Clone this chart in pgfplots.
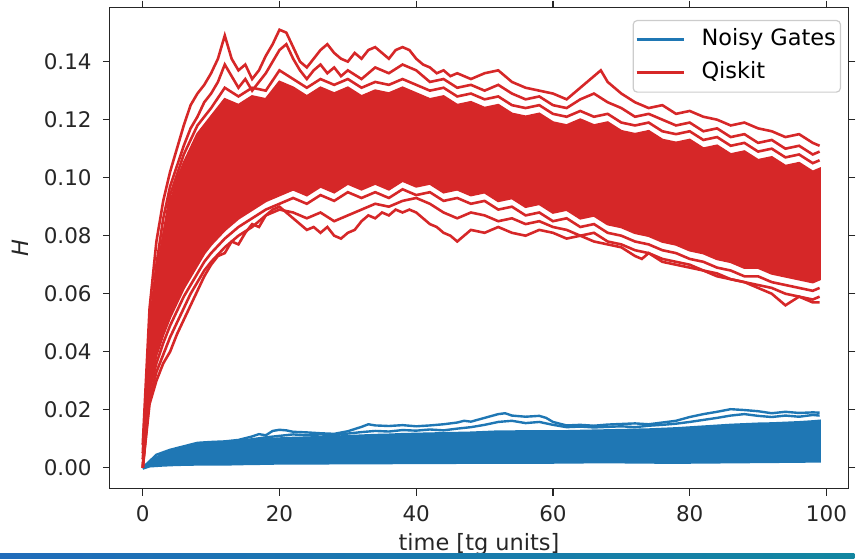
\documentclass[border=0pt]{standalone}
\usepackage{fontspec}
\setmainfont{DejaVu Sans}
\usepackage{pgfplots}
\pgfplotsset{compat=1.18}
\definecolor{tabred}{HTML}{D62728}
\definecolor{tabblue}{HTML}{1F77B4}
\definecolor{barL}{RGB}{32,108,186}
\definecolor{barR}{RGB}{18,134,160}
\newcommand{\fs}{\fontsize{21.5bp}{25bp}\selectfont}
\newcommand{\fl}{\fontsize{22.5bp}{26bp}\selectfont}
\begin{document}
\begin{tikzpicture}
\begin{axis}[
  at={(0,0)}, anchor=south west,
  scale only axis, width=740bp, height=482bp,
  xmin=-4.82, xmax=103.2, ymin=-0.00722, ymax=0.1586,
  axis line style={black!85, line width=1.4bp},
  tick align=outside, tick style={black!85, line width=1.4bp},
  major tick length=7bp,
  xtick={0,20,40,60,80,100}, ytick={0,0.02,0.04,0.06,0.08,0.1,0.12,0.14},
  minor tick num=0,
  /pgf/number format/assume math mode=true,
  scaled y ticks=false,
  ticklabel style={font=\fs, text=black!85},
  xticklabel style={anchor=north, inner sep=0pt, yshift=-10bp},
  yticklabel style={/pgf/number format/fixed, /pgf/number format/fixed zerofill, /pgf/number format/precision=2, anchor=east, inner sep=0pt, xshift=-11bp},
  xlabel={time [tg units]},
  xlabel style={font=\fl, text=black!85, at={(axis description cs:0.5,0)}, anchor=north, inner sep=0pt, yshift=-44.5bp},
  ylabel={\itshape H},
  ylabel style={font=\fl, text=black!85, at={(axis description cs:-0.1216,0.5)}, anchor=center, inner sep=0pt},
  legend style={at={(1,1)}, anchor=north east, xshift=-7.3bp, yshift=-12.3bp, draw=black!20, rounded corners=4bp, line width=1.2bp, fill=white, font=\fl, inner xsep=2bp, inner ysep=5bp, row sep=4.9bp, column sep=16.5bp, cells={anchor=west}, nodes={inner sep=0pt, text height=19.8bp, text depth=8.6bp}},
  legend image code/.code={\draw[#1, line width=3bp] (0bp,0bp) -- (47bp,0bp); \path[draw=none, fill=none] (0bp,-12.4bp) -- (0bp,0bp);},
  clip=true,
]
% ---------------- Noisy Gates (blue) ----------------
% dense core (upper edge forward, lower edge back)
\addplot[tabblue, fill=tabblue, line width=2.4bp, forget plot] coordinates {
(0,0.000)(1,0.0020)(2,0.0035)(3,0.0045)(4,0.0053)(5,0.0060)(6,0.0066)(8,0.0075)(10,0.0082)(12,0.0087)(14,0.0090)(16,0.0094)(18,0.0098)(20,0.0101)(22,0.0103)(24,0.0104)(26,0.0106)(28,0.0107)(30,0.0109)(32,0.0111)(34,0.0113)(36,0.0114)(38,0.0116)(40,0.0117)(42,0.0118)(44,0.0119)(46,0.0120)(48,0.0121)(50,0.0123)(52,0.0125)(54,0.0125)(56,0.0126)(58,0.0126)(60,0.0126)(62,0.0126)(64,0.0127)(66,0.0128)(68,0.0129)(70,0.0130)(72,0.0131)(74,0.0132)(76,0.0134)(78,0.0136)(80,0.0139)(82,0.0142)(84,0.0145)(86,0.0148)(88,0.0150)(90,0.0152)(92,0.0153)(94,0.0155)(96,0.0157)(98,0.0160)(99,0.0162)
(99,0.0022)(95,0.0021)(90,0.0020)(85,0.0019)(80,0.0018)(75,0.0018)(70,0.0019)(65,0.0019)(60,0.0018)(55,0.0018)(50,0.0018)(45,0.0017)(40,0.0017)(35,0.0016)(30,0.0016)(25,0.0015)(20,0.0015)(18,0.0014)(15,0.0013)(13,0.0012)(10,0.0012)(7,0.0011)(5,0.0010)(3,0.0008)(1,0.0005)(0,-0.0003)};
\addplot[tabblue, line width=2.4bp, forget plot] coordinates {
(0,0)(2,0.0045)(4,0.0062)(6,0.0074)(8,0.0086)(10,0.0089)(12,0.0091)(14,0.0096)(16,0.0108)(17,0.0116)(18,0.0112)(19,0.0127)(20,0.0131)(21,0.0129)(22,0.0124)(24,0.0122)(26,0.0119)(28,0.0117)(30,0.0126)(32,0.0141)(33,0.0150)(34,0.0146)(36,0.0144)(38,0.0147)(40,0.0143)(42,0.0146)(44,0.0150)(46,0.0156)(47,0.0162)(48,0.0159)(50,0.0172)(52,0.0185)(53,0.0188)(54,0.0180)(56,0.0176)(58,0.0179)(59,0.0172)(60,0.0158)(62,0.0146)(64,0.0148)(66,0.0145)(68,0.0149)(70,0.0151)(72,0.0153)(74,0.0150)(76,0.0156)(78,0.0162)(80,0.0175)(82,0.0185)(84,0.0193)(86,0.0202)(88,0.0199)(90,0.0195)(92,0.0188)(94,0.0193)(96,0.0189)(98,0.0191)(99,0.0190)};
\addplot[tabblue, line width=2.4bp, forget plot] coordinates {
(0,0)(3,0.0050)(6,0.0070)(9,0.0083)(12,0.0088)(15,0.0095)(18,0.0105)(20,0.0110)(22,0.0115)(24,0.0112)(26,0.0115)(28,0.0112)(30,0.0118)(32,0.0123)(34,0.0127)(36,0.0125)(38,0.0130)(40,0.0128)(42,0.0132)(44,0.0129)(46,0.0135)(48,0.0140)(50,0.0148)(52,0.0158)(54,0.0162)(56,0.0154)(58,0.0158)(60,0.0148)(62,0.0140)(64,0.0142)(66,0.0139)(68,0.0141)(70,0.0143)(72,0.0140)(74,0.0145)(76,0.0148)(78,0.0152)(80,0.0158)(82,0.0165)(84,0.0172)(86,0.0180)(88,0.0185)(90,0.0179)(92,0.0175)(94,0.0180)(96,0.0176)(98,0.0182)(99,0.0180)};
% ---------------- Qiskit (red) ----------------
% dense core (upper edge forward, lower edge back)
\addplot[tabred, fill=tabred, line width=2.6bp, forget plot] coordinates {
(0,0)(1,0.044)(2,0.064)(3,0.080)(4,0.091)(5,0.099)(6,0.105)(7,0.110)(8,0.115)(9,0.118)(10,0.121)(12,0.127)(14,0.125)(16,0.128)(18,0.127)(20,0.133)(22,0.131)(24,0.128)(26,0.131)(28,0.129)(30,0.131)(32,0.128)(34,0.130)(36,0.129)(38,0.131)(40,0.129)(42,0.127)(44,0.128)(46,0.125)(48,0.126)(50,0.124)(52,0.125)(54,0.122)(56,0.121)(58,0.122)(60,0.119)(62,0.118)(64,0.120)(66,0.118)(68,0.119)(70,0.116)(72,0.115)(74,0.116)(76,0.113)(78,0.112)(80,0.113)(82,0.110)(84,0.111)(86,0.108)(88,0.109)(90,0.106)(92,0.107)(94,0.104)(96,0.105)(98,0.102)(99,0.103)
(99,0.065)(98,0.064)(96,0.065)(94,0.066)(92,0.067)(90,0.069)(88,0.069)(86,0.071)(84,0.072)(82,0.074)(80,0.075)(78,0.077)(76,0.078)(74,0.080)(72,0.081)(70,0.083)(68,0.084)(66,0.087)(64,0.086)(62,0.089)(60,0.088)(58,0.091)(56,0.090)(54,0.093)(52,0.092)(50,0.095)(48,0.094)(46,0.096)(44,0.095)(42,0.098)(40,0.097)(38,0.099)(36,0.096)(34,0.098)(32,0.096)(30,0.098)(28,0.095)(26,0.097)(24,0.094)(22,0.096)(20,0.094)(18,0.092)(16,0.089)(14,0.086)(12,0.082)(10,0.077)(9,0.074)(8,0.070)(7,0.066)(6,0.062)(5,0.057)(4,0.052)(3,0.046)(2,0.039)(1,0.029)(0,0)};
% upper lines
\addplot[tabred, line width=2.6bp, forget plot] coordinates {
(0,0.008)(1,0.055)(2,0.078)(3,0.092)(4,0.102)(5,0.110)(6,0.118)(7,0.125)(8,0.129)(9,0.132)(10,0.136)(11,0.141)(12,0.149)(13,0.141)(14,0.137)(15,0.139)(16,0.134)(17,0.137)(18,0.142)(19,0.146)(20,0.151)(21,0.150)(22,0.145)(23,0.140)(24,0.138)(25,0.141)(26,0.144)(27,0.146)(28,0.143)(29,0.141)(30,0.140)(31,0.143)(32,0.141)(33,0.144)(34,0.145)(35,0.143)(36,0.141)(37,0.144)(38,0.145)(39,0.144)(40,0.141)(41,0.139)(42,0.138)(43,0.136)(44,0.137)(45,0.135)(46,0.136)(48,0.134)(50,0.136)(52,0.137)(54,0.133)(56,0.131)(58,0.130)(60,0.129)(62,0.127)(64,0.131)(66,0.135)(67,0.137)(68,0.133)(70,0.129)(72,0.126)(74,0.124)(76,0.125)(78,0.122)(80,0.123)(82,0.121)(84,0.120)(86,0.118)(88,0.119)(90,0.117)(92,0.116)(94,0.114)(96,0.115)(98,0.112)(99,0.111)};
\addplot[tabred, line width=2.6bp, forget plot] coordinates {
(0,0.005)(1,0.048)(2,0.070)(3,0.086)(4,0.097)(5,0.104)(6,0.111)(7,0.117)(8,0.121)(9,0.126)(10,0.129)(11,0.133)(12,0.139)(13,0.135)(14,0.131)(15,0.134)(16,0.130)(17,0.133)(18,0.136)(19,0.140)(20,0.144)(21,0.146)(22,0.141)(23,0.137)(24,0.134)(25,0.137)(26,0.139)(27,0.136)(28,0.138)(29,0.135)(30,0.137)(32,0.134)(34,0.138)(36,0.136)(38,0.139)(40,0.137)(42,0.133)(44,0.134)(46,0.131)(48,0.132)(50,0.130)(52,0.132)(54,0.129)(56,0.127)(58,0.128)(60,0.125)(62,0.124)(64,0.127)(66,0.129)(68,0.126)(70,0.124)(72,0.121)(74,0.122)(76,0.120)(78,0.118)(80,0.119)(82,0.116)(84,0.117)(86,0.114)(88,0.115)(90,0.112)(92,0.113)(94,0.110)(96,0.111)(98,0.108)(99,0.109)};
\addplot[tabred, line width=2.6bp, forget plot] coordinates {
(0,0.003)(2,0.066)(4,0.094)(6,0.108)(8,0.118)(10,0.124)(12,0.131)(14,0.128)(16,0.131)(18,0.130)(20,0.137)(22,0.134)(24,0.131)(26,0.134)(28,0.132)(30,0.134)(32,0.131)(34,0.133)(36,0.132)(38,0.134)(40,0.132)(42,0.130)(44,0.131)(46,0.128)(48,0.129)(50,0.127)(52,0.128)(54,0.125)(56,0.124)(58,0.125)(60,0.122)(62,0.121)(64,0.123)(66,0.121)(68,0.122)(70,0.119)(72,0.118)(74,0.119)(76,0.116)(78,0.115)(80,0.116)(82,0.113)(84,0.114)(86,0.111)(88,0.112)(90,0.109)(92,0.110)(94,0.107)(96,0.108)(98,0.105)(99,0.106)};
% lower lines
\addplot[tabred, line width=2.6bp, forget plot] coordinates {
(0,0)(1,0.027)(2,0.036)(3,0.043)(4,0.049)(5,0.054)(6,0.059)(7,0.063)(8,0.067)(9,0.071)(10,0.074)(12,0.079)(14,0.083)(16,0.086)(18,0.089)(20,0.091)(22,0.093)(24,0.091)(26,0.094)(28,0.092)(30,0.095)(32,0.093)(34,0.095)(36,0.093)(38,0.096)(40,0.094)(42,0.095)(44,0.092)(46,0.093)(48,0.091)(50,0.092)(52,0.089)(54,0.090)(56,0.087)(58,0.088)(60,0.085)(62,0.086)(64,0.083)(66,0.084)(68,0.081)(70,0.080)(72,0.078)(74,0.077)(76,0.075)(78,0.074)(80,0.072)(82,0.071)(84,0.069)(86,0.068)(88,0.066)(90,0.066)(92,0.064)(94,0.063)(96,0.062)(98,0.061)(99,0.062)};
\addplot[tabred, line width=2.6bp, forget plot] coordinates {
(0,0)(1,0.024)(2,0.033)(3,0.039)(4,0.045)(5,0.050)(6,0.055)(7,0.060)(8,0.064)(9,0.068)(10,0.071)(12,0.076)(14,0.080)(16,0.083)(18,0.087)(20,0.089)(22,0.088)(24,0.086)(26,0.088)(28,0.085)(30,0.087)(32,0.089)(34,0.091)(36,0.090)(38,0.092)(40,0.093)(42,0.091)(44,0.088)(46,0.086)(48,0.088)(50,0.087)(52,0.085)(54,0.086)(56,0.084)(58,0.085)(60,0.083)(62,0.082)(64,0.080)(66,0.081)(68,0.078)(70,0.077)(72,0.075)(74,0.074)(76,0.072)(78,0.071)(80,0.070)(82,0.068)(84,0.067)(86,0.065)(88,0.064)(90,0.063)(92,0.062)(94,0.060)(96,0.059)(98,0.058)(99,0.059)};
\addplot[tabred, line width=2.6bp, forget plot] coordinates {
(0,0)(1,0.022)(2,0.030)(3,0.036)(4,0.040)(5,0.046)(6,0.051)(7,0.056)(8,0.061)(9,0.066)(10,0.070)(11,0.073)(12,0.074)(13,0.078)(14,0.077)(15,0.081)(16,0.084)(17,0.083)(18,0.087)(19,0.089)(20,0.090)(21,0.088)(22,0.086)(23,0.084)(24,0.082)(25,0.083)(26,0.081)(27,0.083)(28,0.080)(29,0.079)(30,0.081)(31,0.082)(32,0.085)(33,0.087)(34,0.086)(35,0.088)(36,0.087)(37,0.089)(38,0.088)(39,0.089)(40,0.088)(41,0.086)(42,0.084)(43,0.083)(44,0.081)(45,0.080)(46,0.078)(47,0.080)(48,0.082)(50,0.081)(52,0.083)(54,0.081)(56,0.080)(58,0.082)(60,0.081)(62,0.079)(64,0.080)(66,0.078)(68,0.077)(70,0.076)(72,0.073)(73,0.072)(74,0.074)(76,0.071)(78,0.070)(80,0.069)(82,0.068)(84,0.066)(86,0.065)(88,0.064)(90,0.062)(92,0.060)(94,0.056)(96,0.059)(98,0.057)(99,0.057)};
% legend
\addlegendimage{tabblue}
\addlegendentry{Noisy Gates\hspace*{2.5bp}}
\addlegendimage{tabred}
\addlegendentry{Qiskit}
\end{axis}
\shade[left color=barL, right color=barR] (-110bp,-70bp) rectangle (746bp,-65bp);
\path (-110bp,-70bp) rectangle (746bp,488bp);
\end{tikzpicture}
\end{document}
